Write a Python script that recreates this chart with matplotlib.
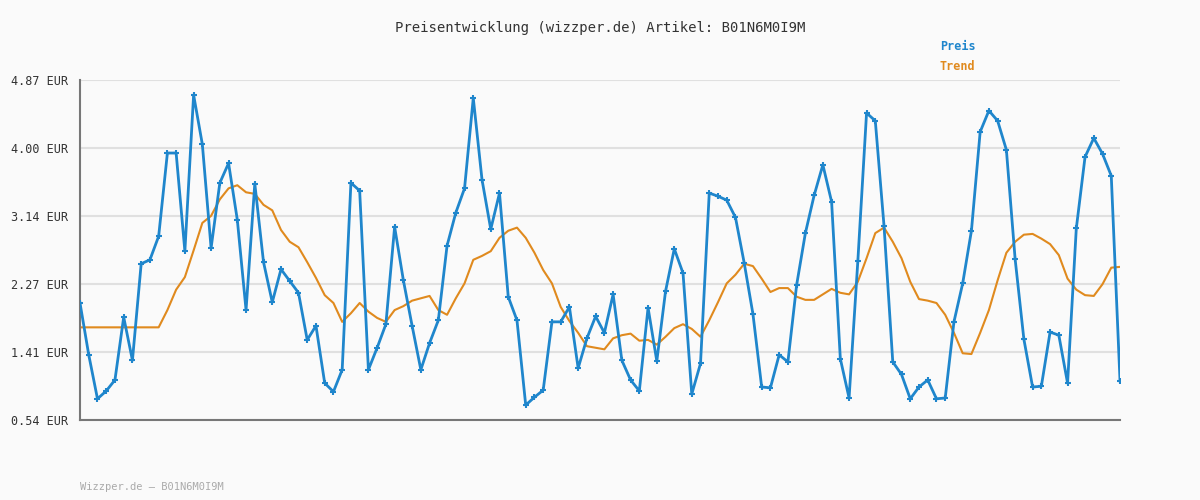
import matplotlib
matplotlib.use("Agg")
import matplotlib.pyplot as plt
import numpy as np

price = [2.03,1.37,0.81,0.91,1.05,1.85,1.30,2.53,2.58,2.88,3.94,3.94,2.69,4.68,4.05,2.73,3.56,3.81,3.09,1.94,
         3.55,2.55,2.04,2.46,2.31,2.16,1.56,1.74,1.01,0.90,1.18,3.56,3.46,1.18,1.46,1.76,3.00,2.32,1.74,1.18,
         1.52,1.81,2.76,3.18,3.49,4.64,3.60,2.97,3.43,2.11,1.81,0.73,0.83,0.92,1.79,1.79,1.98,1.20,1.58,1.86,
         1.65,2.14,1.30,1.05,0.91,1.97,1.29,2.18,2.72,2.41,0.87,1.26,3.43,3.39,3.34,3.12,2.54,1.89,0.96,0.95,
         1.37,1.28,2.26,2.92,3.40,3.79,3.32,1.32,0.82,2.56,4.45,4.35,3.01,1.28,1.12,0.81,0.96,1.05,0.81,0.82,
         1.79,2.28,2.95,4.21,4.48,4.35,3.98,2.59,1.57,0.96,0.97,1.66,1.62,1.01,2.98,3.89,4.13,3.93,3.65,1.04]
trend = [1.72]*10 + [1.94,2.20,2.36,2.70,3.05,3.14,3.35,3.49,3.53,3.44,3.42,3.28,3.21,2.96,2.81,2.74,2.55,2.35,2.13,2.03,
         1.79,1.90,2.03,1.92,1.84,1.79,1.94,1.99,2.06,2.09,2.12,1.94,1.88,2.09,2.28,2.58,2.63,2.69,2.86,2.95,
         2.99,2.86,2.67,2.45,2.28,1.98,1.80,1.65,1.48,1.46,1.44,1.58,1.62,1.64,1.55,1.56,1.50,1.60,1.71,1.76,
         1.70,1.60,1.81,2.04,2.28,2.39,2.53,2.50,2.34,2.17,2.22,2.22,2.11,2.07,2.07,2.14,2.21,2.16,2.14,2.30,
         2.60,2.92,2.99,2.81,2.60,2.30,2.08,2.06,2.03,1.88,1.65,1.39,1.38,1.65,1.94,2.32,2.67,2.81,2.90,2.91,
         2.85,2.78,2.64,2.34,2.20,2.13,2.12,2.27,2.48,2.49]
yticks = [0.54,1.41,2.27,3.14,4.00,4.87]
ytick_labels = [f"{v:.2f} EUR" for v in yticks]

blue = "#1f86cc"
orange = "#e08a1e"
mono = "DejaVu Sans Mono"

fig = plt.figure(figsize=(12,5), dpi=100, facecolor="#fafafa")
ax = fig.add_axes([80/1200, 80/500, 1040/1200, 340/500], facecolor="#fafafa")
ax.plot(np.arange(len(price)), price, color=blue, lw=2, marker="+", ms=4, mew=1.5, zorder=3)
ax.plot(np.arange(len(trend)), trend, color=orange, lw=1.5, zorder=2)
ax.set_xlim(0, len(price)-1)
ax.set_ylim(yticks[0], yticks[-1])
ax.set_yticks(yticks)
ax.set_yticklabels(ytick_labels, family=mono, fontsize=8.5, color="#333333", ha="left")
ax.set_xticks([])
ax.grid(axis="y", color="#e0e0e0", lw=1.5)
ax.tick_params(axis="y", length=0, pad=50)
for s in ["top","right"]:
    ax.spines[s].set_visible(False)
for s in ["left","bottom"]:
    ax.spines[s].set_color("#777777")
    ax.spines[s].set_linewidth(1.5)
ax.set_axisbelow(True)

fig.text(0.5, 1-28/500, "Preisentwicklung (wizzper.de) Artikel: B01N6M0I9M", ha="center", va="center",
         family=mono, fontsize=10, color="#333333")
fig.text(940/1200, 1-47/500, "Preis", ha="left", va="center", family=mono, fontsize=8.5, color=blue, weight="bold")
fig.text(940/1200, 1-67/500, "Trend", ha="left", va="center", family=mono, fontsize=8.5, color=orange, weight="bold")
fig.text(80/1200, 1-487/500, "Wizzper.de – B01N6M0I9M", ha="left", va="center", family=mono, fontsize=7.5, color="#aaaaaa")

fig.savefig("out.png", dpi=100, facecolor=fig.get_facecolor())
